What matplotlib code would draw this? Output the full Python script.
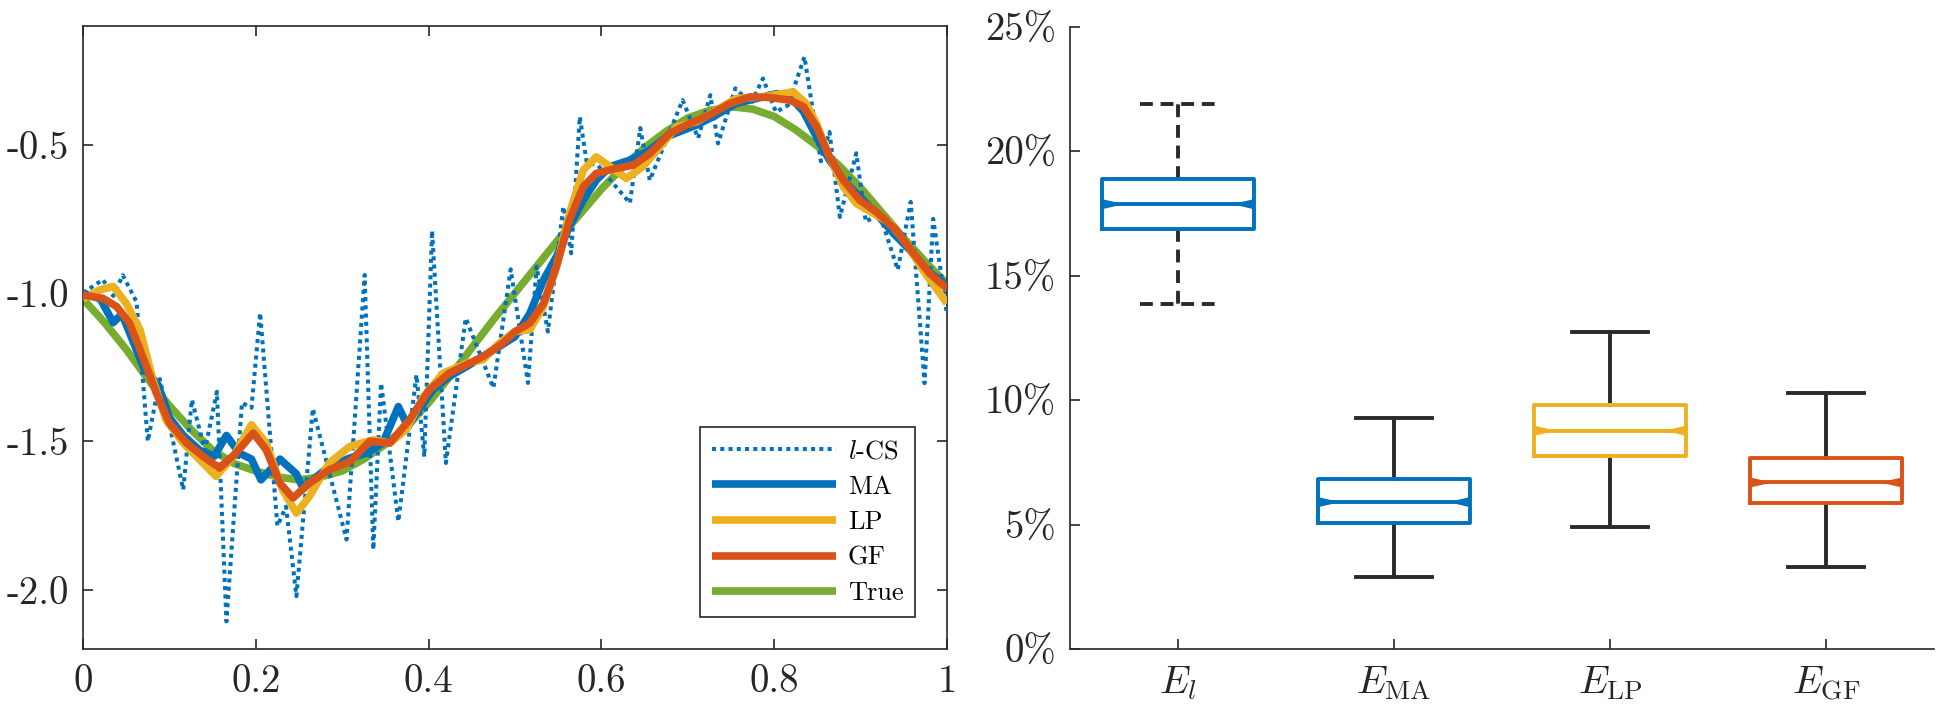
import matplotlib
matplotlib.use('Agg')
import matplotlib.pyplot as plt

plt.rcParams['font.family'] = 'cmr10'
plt.rcParams['mathtext.fontset'] = 'cm'
plt.rcParams['axes.unicode_minus'] = False

# ---------------- data: left panel ----------------
true_x = [0.0, 0.025, 0.05, 0.075, 0.1, 0.125, 0.15, 0.175, 0.2, 0.225, 0.25,
          0.275, 0.3, 0.325, 0.35, 0.375, 0.4, 0.425, 0.45, 0.475, 0.5,
          0.525, 0.55, 0.575, 0.6, 0.625, 0.65, 0.675, 0.7, 0.725, 0.75,
          0.775, 0.8, 0.825, 0.85, 0.875, 0.9, 0.925, 0.95, 0.975, 1.0]
true_y = [-1.02, -1.10, -1.19, -1.29, -1.38, -1.46, -1.53, -1.575, -1.60, -1.62, -1.63,
          -1.62, -1.60, -1.56, -1.51, -1.45, -1.37, -1.28, -1.185, -1.09, -1.00,
          -0.91, -0.82, -0.735, -0.65, -0.575, -0.51, -0.455, -0.41, -0.385, -0.372,
          -0.38, -0.405, -0.45, -0.505, -0.57, -0.645, -0.73, -0.815, -0.895, -0.97]

lcs_x = [0.0, 0.023, 0.035, 0.046, 0.062, 0.075, 0.089, 0.116, 0.126, 0.141, 0.155,
         0.166, 0.184, 0.195, 0.205, 0.225, 0.235, 0.247, 0.266, 0.305, 0.326, 0.336,
         0.345, 0.365, 0.386, 0.395, 0.404, 0.42, 0.443, 0.475, 0.495, 0.515, 0.525,
         0.538, 0.556, 0.565, 0.575, 0.583, 0.596, 0.633, 0.645, 0.656, 0.694, 0.712,
         0.726, 0.735, 0.755, 0.773, 0.787, 0.802, 0.816, 0.835, 0.854, 0.864, 0.876,
         0.895, 0.906, 0.922, 0.943, 0.958, 0.974, 0.984, 1.0]
lcs_y = [-1.0, -0.955, -1.01, -0.94, -1.03, -1.50, -1.29, -1.663, -1.36, -1.53, -1.333,
         -2.107, -1.37, -1.387, -1.067, -1.785, -1.72, -2.022, -1.39, -1.831, -0.939, -1.865,
         -1.304, -1.77, -1.276, -1.552, -0.79, -1.573, -1.085, -1.32, -0.92, -1.303, -0.911,
         -1.13, -0.709, -0.866, -0.406, -0.56, -0.57, -0.697, -0.444, -0.62, -0.35, -0.478,
         -0.333, -0.496, -0.31, -0.361, -0.277, -0.39, -0.367, -0.204, -0.556, -0.457, -0.744,
         -0.529, -0.76, -0.732, -0.922, -0.693, -1.304, -0.75, -1.074]

ma_x = [0.0, 0.02, 0.035, 0.045, 0.07, 0.087, 0.10, 0.116, 0.135, 0.152, 0.166, 0.181,
        0.195, 0.206, 0.228, 0.247, 0.255, 0.27, 0.285, 0.309, 0.328, 0.347, 0.365, 0.376,
        0.386, 0.405, 0.424, 0.444, 0.463, 0.482, 0.50, 0.517, 0.533, 0.548, 0.563, 0.579,
        0.594, 0.61, 0.633, 0.656, 0.675, 0.695, 0.71, 0.733, 0.756, 0.78, 0.803, 0.822,
        0.834, 0.849, 0.864, 0.88, 0.899, 0.918, 0.938, 0.957, 0.976, 1.0]
ma_y = [-1.0, -1.02, -1.10, -1.07, -1.25, -1.31, -1.42, -1.48, -1.53, -1.55, -1.48, -1.54,
        -1.56, -1.63, -1.56, -1.61, -1.66, -1.62, -1.585, -1.556, -1.54, -1.506, -1.383, -1.45,
        -1.405, -1.326, -1.281, -1.248, -1.214, -1.18, -1.147, -1.07, -0.956, -0.877, -0.776, -0.687,
        -0.62, -0.574, -0.552, -0.518, -0.474, -0.451, -0.434, -0.40, -0.361, -0.344, -0.328, -0.35,
        -0.389, -0.474, -0.552, -0.62, -0.675, -0.732, -0.799, -0.855, -0.922, -0.975]

lp_x = [0.0, 0.019, 0.035, 0.05, 0.066, 0.081, 0.096, 0.116, 0.135, 0.154, 0.174, 0.195,
        0.212, 0.231, 0.247, 0.262, 0.285, 0.309, 0.336, 0.355, 0.374, 0.394, 0.417, 0.444,
        0.463, 0.482, 0.50, 0.517, 0.533, 0.548, 0.563, 0.579, 0.594, 0.61, 0.629, 0.648,
        0.668, 0.687, 0.71, 0.733, 0.756, 0.787, 0.822, 0.837, 0.849, 0.864, 0.88, 0.895,
        0.915, 0.934, 0.953, 0.972, 1.0]
lp_y = [-1.02, -0.99, -0.978, -1.035, -1.124, -1.293, -1.427, -1.506, -1.562, -1.618, -1.551, -1.444,
        -1.506, -1.663, -1.742, -1.686, -1.573, -1.517, -1.495, -1.506, -1.461, -1.349, -1.27, -1.237,
        -1.225, -1.169, -1.13, -1.124, -1.046, -0.911, -0.732, -0.586, -0.541, -0.574, -0.614, -0.574,
        -0.507, -0.44, -0.423, -0.384, -0.344, -0.339, -0.322, -0.361, -0.429, -0.541, -0.642, -0.698,
        -0.732, -0.765, -0.833, -0.922, -1.035]

gf_x = [0.0, 0.023, 0.039, 0.054, 0.069, 0.085, 0.10, 0.12, 0.139, 0.158, 0.177, 0.197,
        0.212, 0.228, 0.243, 0.262, 0.285, 0.309, 0.332, 0.355, 0.378, 0.401, 0.424, 0.444,
        0.463, 0.486, 0.50, 0.517, 0.533, 0.548, 0.563, 0.579, 0.594, 0.617, 0.637, 0.656,
        0.679, 0.702, 0.725, 0.749, 0.772, 0.795, 0.818, 0.834, 0.849, 0.864, 0.88, 0.899,
        0.918, 0.941, 0.961, 0.98, 1.0]
gf_y = [-1.007, -1.018, -1.046, -1.102, -1.214, -1.338, -1.439, -1.506, -1.551, -1.59, -1.54, -1.472,
        -1.528, -1.641, -1.691, -1.641, -1.596, -1.568, -1.50, -1.506, -1.427, -1.326, -1.27, -1.242,
        -1.214, -1.169, -1.13, -1.102, -1.035, -0.911, -0.754, -0.642, -0.597, -0.58, -0.569, -0.53,
        -0.462, -0.429, -0.40, -0.361, -0.339, -0.341, -0.35, -0.372, -0.44, -0.541, -0.62, -0.687,
        -0.726, -0.788, -0.866, -0.934, -0.985]

left_xticks = [0, 0.2, 0.4, 0.6, 0.8, 1]
left_xticklabels = ['0', '0.2', '0.4', '0.6', '0.8', '1']
left_yticks = [-2.0, -1.5, -1.0, -0.5]
left_yticklabels = ['-2.0', '-1.5', '-1.0', '-0.5']
series_labels = ['$l$-CS', 'MA', 'LP', 'GF', 'True']

# ---------------- data: right panel ----------------
box_labels = ['$E_l$', '$E_{\\mathrm{MA}}$', '$E_{\\mathrm{LP}}$', '$E_{\\mathrm{GF}}$']
box_whislo = [13.85, 2.9, 4.9, 3.3]
box_q1 = [16.87, 5.06, 7.75, 5.85]
box_med = [17.87, 5.9, 8.77, 6.69]
box_q3 = [18.9, 6.83, 9.79, 7.67]
box_whishi = [21.9, 9.3, 12.72, 10.27]
right_yticks = [0, 5, 10, 15, 20, 25]
right_yticklabels = ['0%', '5%', '10%', '15%', '20%', '25%']

# ---------------- style ----------------
BLUE = '#0072BD'
ORANGE = '#D95319'
YELLOW = '#EDB120'
GREEN = '#77AC30'
AXC = '#262626'
WHISK = '#2a2a2a'
W = 1940
H = 709

fig = plt.figure(figsize=(W / 100, H / 100), dpi=100)
ax1 = fig.add_axes([83 / W, 1 - 649 / H, (947 - 83) / W, (649 - 26) / H])
ax2 = fig.add_axes([1070 / W, 1 - 649 / H, (1934 - 1070) / W, (649 - 26.7) / H])

lw = 5.5
kw = dict(solid_joinstyle='round', solid_capstyle='butt')
l_true, = ax1.plot(true_x, true_y, color=GREEN, lw=lw, zorder=2, **kw)
l_lcs, = ax1.plot(lcs_x, lcs_y, color=BLUE, lw=2.9, linestyle=(0, (1, 1.05)), zorder=3)
l_ma, = ax1.plot(ma_x, ma_y, color=BLUE, lw=lw, zorder=4, **kw)
l_lp, = ax1.plot(lp_x, lp_y, color=YELLOW, lw=lw, zorder=5, **kw)
l_gf, = ax1.plot(gf_x, gf_y, color=ORANGE, lw=lw, zorder=6, **kw)

ax1.set_xlim(0, 1)
ax1.set_ylim(-2.2, -0.1)
ax1.set_xticks(left_xticks)
ax1.set_xticklabels(left_xticklabels)
ax1.set_yticks(left_yticks)
ax1.set_yticklabels(left_yticklabels)
ax1.tick_params(direction='in', top=True, right=True, length=7, width=1.2,
                color=AXC, labelcolor=AXC, labelsize=28)
ax1.tick_params(axis='x', pad=11)
ax1.tick_params(axis='y', pad=10)
for s in ax1.spines.values():
    s.set_color(AXC)
    s.set_linewidth(1.2)

leg = ax1.legend([l_lcs, l_ma, l_lp, l_gf, l_true], series_labels, loc='lower right',
                 fontsize=19, frameon=True, fancybox=False, edgecolor=AXC, framealpha=1,
                 handlelength=4.7, handletextpad=0.45, labelspacing=0.45, borderpad=0.45,
                 borderaxespad=1.2)
leg.get_frame().set_linewidth(1.2)
leg.set_zorder(10)

# ---------------- right panel ----------------
positions = [1, 2, 3, 4]
box_colors = [BLUE, BLUE, YELLOW, ORANGE]
stats = []
for lab, lo, a, m, b, hi in zip(box_labels, box_whislo, box_q1, box_med, box_q3, box_whishi):
    stats.append(dict(label=lab, whislo=lo, q1=a, med=m, q3=b, whishi=hi, fliers=[]))

box_w = 0.7
bp = ax2.bxp(stats, positions=positions, widths=box_w, capwidths=0.35,
             showfliers=False, manage_ticks=False)
blw = 2.8
for i, c in enumerate(box_colors):
    bp['boxes'][i].set(color=c, linewidth=blw, zorder=4)
    bp['medians'][i].set(color=c, linewidth=blw, zorder=4, solid_capstyle='butt')
    ls = (0, (3.3, 2.0)) if i == 0 else '-'
    for j in (2 * i, 2 * i + 1):
        bp['whiskers'][j].set(color=WHISK, linewidth=blw, linestyle=ls, zorder=3)
        bp['caps'][j].set(color=WHISK, linewidth=blw, linestyle=ls, zorder=3)
    # notch markers at median ends
    nl = 0.1
    nh = 0.2
    p = positions[i]
    m = box_med[i]
    left = p - box_w / 2
    right = p + box_w / 2
    ax2.fill([left, left, left + nl], [m - nh, m + nh, m], color=c, lw=0, zorder=5)
    ax2.fill([right, right, right - nl], [m - nh, m + nh, m], color=c, lw=0, zorder=5)

ax2.set_xlim(0.5, 4.5)
ax2.set_ylim(0, 25)
ax2.set_xticks(positions)
ax2.set_xticklabels(box_labels)
ax2.set_yticks(right_yticks)
ax2.set_yticklabels(right_yticklabels)
ax2.tick_params(direction='in', length=7, width=1.2, color=AXC, labelcolor=AXC, labelsize=28)
ax2.tick_params(axis='x', pad=11)
ax2.tick_params(axis='y', pad=10)
ax2.spines['top'].set_visible(False)
ax2.spines['right'].set_visible(False)
for s in ('left', 'bottom'):
    ax2.spines[s].set_color(AXC)
    ax2.spines[s].set_linewidth(1.2)

fig.savefig('out.png', dpi=100)
